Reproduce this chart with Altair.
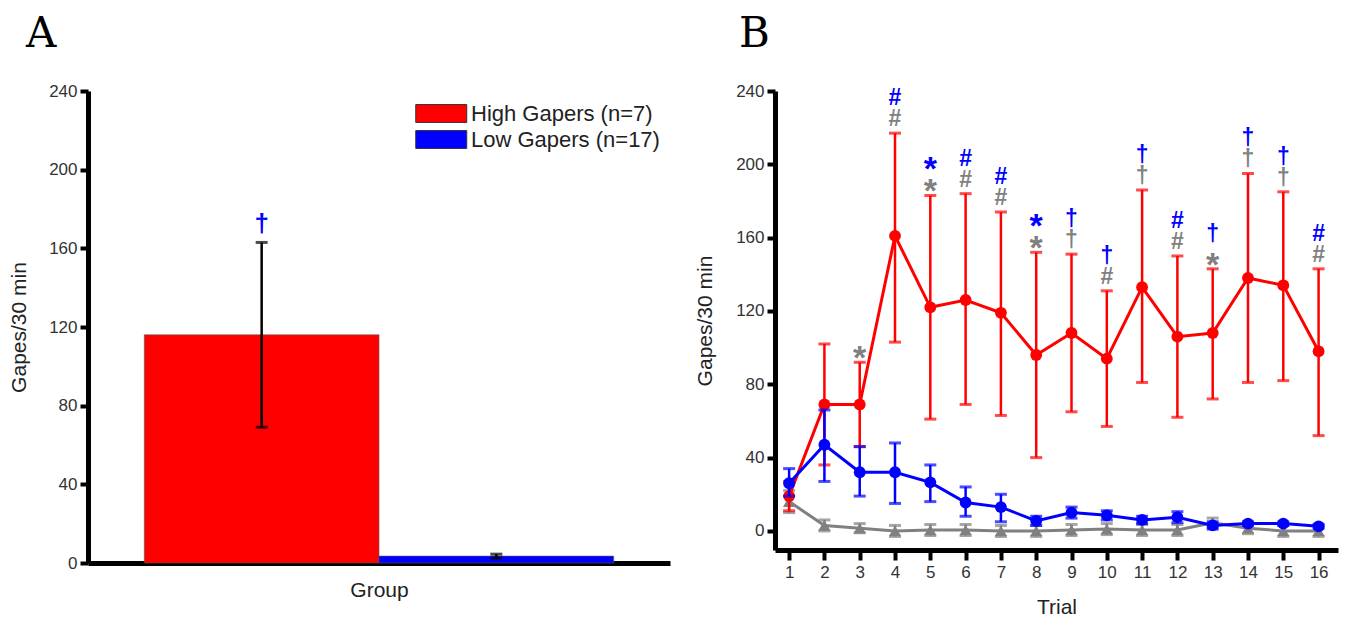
import altair as alt
import pandas as pd

# ---------------- Panel A data ----------------
groups = ["High Gapers (n=7)", "Low Gapers (n=17)"]
group_mean = [116, 3.5]
group_lo = [69, 2.5]
group_hi = [163, 4.5]
group_mark = ["†", ""]

# ---------------- Panel B data ----------------
trials = list(range(1, 17))
high_mean = [19, 69, 69, 161, 122, 126, 119, 96, 108, 94, 133, 106, 108, 138, 134, 98]
high_lo = [11, 36, 46, 103, 61, 69, 63, 40, 65, 57, 81, 62, 72, 81, 82, 52]
high_hi = [27, 102, 92, 217, 183, 184, 174, 152, 151, 131, 186, 150, 143, 195, 185, 143]
low_mean = [26, 47, 32, 32, 26.5, 15.5, 13, 5.5, 10, 8.5, 6, 7.5, 3, 4, 4, 2.5]
low_lo = [19, 27, 19, 15, 16, 8, 5, 3, 7, 6, 4, 4.5, 1, 3, 3, 1.5]
low_hi = [34, 66, 46, 48, 36, 24, 20, 8, 13, 11, 8, 10.5, 5, 5, 5, 3.5]
non_mean = [16, 3, 1.5, 0, 0.5, 0.5, 0, 0, 0.5, 1, 0.5, 0.5, 4.5, 1.5, 0, 0]
non_lo = [10, 0, -1, -3, -2.5, -2.5, -3, -3, -2.5, -2, -2.5, -2.5, 2, -1.5, -3, -3]
non_hi = [22, 6, 4, 3, 3.5, 3.5, 3, 3, 3.5, 4, 3.5, 3.5, 7, 4.5, 3, 3]
# significance marks above the High Gapers error bars
vs_low = ["", "", "", "#", "*", "#", "#", "*", "†", "†", "†", "#", "†", "†", "†", "#"]
vs_non = ["", "", "*", "#", "*", "#", "#", "*", "†", "#", "†", "#", "*", "†", "†", "#"]

RED = "#ff0000"
BLUE = "#0000ff"
GRAY = "#808080"
FONT = "Liberation Sans"

# ================= Panel A =================
dfA = pd.DataFrame({"group": groups, "mean": group_mean, "lo": group_lo,
                    "hi": group_hi, "mark": group_mark})
baseA = alt.Chart(dfA)
xA = alt.X("group:N", sort=groups,
           scale=alt.Scale(paddingInner=0, paddingOuter=0.24),
           axis=alt.Axis(title="Group", labels=False, ticks=False, titlePadding=16))
yA = alt.Y("mean:Q", scale=alt.Scale(domain=[0, 240], nice=False),
           axis=alt.Axis(values=[0, 40, 80, 120, 160, 200, 240],
                         title="Gapes/30 min", titlePadding=19))
barsA = baseA.mark_bar(stroke="#555", strokeWidth=0.6).encode(
    x=xA, y=yA,
    color=alt.Color("group:N", sort=groups,
                    scale=alt.Scale(domain=groups, range=[RED, BLUE]),
                    legend=alt.Legend(title=None, orient="none", legendX=327, legendY=9,
                                      symbolType="M-1,-0.7H3V0.7H-1Z", symbolSize=650,
                                      symbolStrokeColor="#333", symbolStrokeWidth=1,
                                      labelFontSize=22, labelColor="#222", labelFont=FONT,
                                      labelOffset=29, labelLimit=0, rowPadding=1)))
errA = baseA.mark_rule(color="black", strokeWidth=2.5).encode(
    x=alt.X("group:N", sort=groups), y="lo:Q", y2="hi:Q")
capHiA = baseA.mark_tick(color="black", thickness=3, size=12).encode(
    x=alt.X("group:N", sort=groups), y="hi:Q")
capLoA = baseA.mark_tick(color="black", thickness=3, size=12).encode(
    x=alt.X("group:N", sort=groups), y="lo:Q")
markA = baseA.mark_text(color=BLUE, fontSize=26, fontWeight="bold", dy=-18,
                        baseline="middle").encode(
    x=alt.X("group:N", sort=groups), y="hi:Q", text="mark:N")

chartA = alt.layer(barsA, errA, capHiA, capLoA, markA).properties(
    width=582, height=472,
    title=alt.TitleParams("A", anchor="start", frame="group", dx=-62, offset=26,
                          font="DejaVu Serif", fontSize=42, fontWeight="normal",
                          color="black"))

# ================= Panel B =================
def series_df(mean, lo, hi):
    return pd.DataFrame({"trial": trials, "mean": mean, "lo": lo, "hi": hi})

xB = alt.X("trial:Q", scale=alt.Scale(domain=[0.6, 16.55], nice=False, zero=False),
           axis=alt.Axis(values=trials, format="d", title="Trial", tickSize=10,
                         labelPadding=4, titlePadding=16, labelOverlap=False,
                         labelSeparation=0, labelBound=False))
yB = alt.Y("mean:Q", scale=alt.Scale(domain=[-10.4, 240], nice=False, zero=False),
           axis=alt.Axis(values=[0, 40, 80, 120, 160, 200, 240],
                         title="Gapes/30 min", titlePadding=20))


def series_layers(df, color, shape, size):
    b = alt.Chart(df)
    line = b.mark_line(color=color, strokeWidth=3).encode(x=xB, y=yB)
    rule = b.mark_rule(color=color, strokeWidth=2.5).encode(x=xB, y="lo:Q", y2="hi:Q")
    cap1 = b.mark_tick(color=color, thickness=3, size=12, orient="horizontal").encode(
        x=xB, y="hi:Q")
    cap2 = b.mark_tick(color=color, thickness=3, size=12, orient="horizontal").encode(
        x=xB, y="lo:Q")
    pts = b.mark_point(color=color, fill=color, filled=True, opacity=1, shape=shape,
                       size=size).encode(x=xB, y="mean:Q")
    return [line, rule, cap1, cap2, pts]


dfNon = series_df(non_mean, non_lo, non_hi)
dfHigh = series_df(high_mean, high_lo, high_hi)
dfLow = series_df(low_mean, low_lo, low_hi)

dfAnn = pd.DataFrame({"trial": trials * 2, "top": high_hi * 2,
                      "sym": vs_non + vs_low,
                      "row": ["non"] * 16 + ["low"] * 16})


def ann_layer(row, glyph_is_star, color, dy, size):
    cond = (f"datum.row == '{row}' && datum.sym == '*'" if glyph_is_star
            else f"datum.row == '{row}' && datum.sym != '*' && datum.sym != ''")
    return alt.Chart(dfAnn).transform_filter(cond).mark_text(
        color=color, fontSize=size, fontWeight="bold", baseline="middle", dy=dy,
        font=FONT).encode(x=xB, y="top:Q", text="sym:N")


annB = [
    ann_layer("non", False, GRAY, -14, 23),
    ann_layer("low", False, BLUE, -35, 23),
    ann_layer("non", True, GRAY, -3, 34),
    ann_layer("low", True, BLUE, -25, 34),
]

layersB = (series_layers(dfNon, GRAY, "triangle-up", 150)
           + series_layers(dfHigh, RED, "circle", 140)
           + series_layers(dfLow, BLUE, "circle", 140)
           + annB)
chartB = alt.layer(*layersB).properties(
    width=563, height=459,
    title=alt.TitleParams("B", anchor="start", frame="group", dx=-36, offset=26,
                          font="DejaVu Serif", fontSize=42, fontWeight="normal",
                          color="black"))

chart = alt.hconcat(chartA, chartB, spacing=24).properties(
    padding={"left": 0, "top": 5, "right": 5, "bottom": 5},
    background="white",
).configure_view(stroke=None).configure_axis(
    domainColor="black", domainWidth=5, tickColor="black", tickWidth=4, tickSize=8,
    labelFont=FONT, labelFontSize=17, labelColor="#333", titleFont=FONT,
    titleFontSize=21, titleFontWeight="normal", titleColor="#222", grid=False,
    labelPadding=3,
).configure_axisX(labelOverlap=False).configure_text(font=FONT)

chart.save("out.html", embed_options={"renderer": "svg", "actions": False})
